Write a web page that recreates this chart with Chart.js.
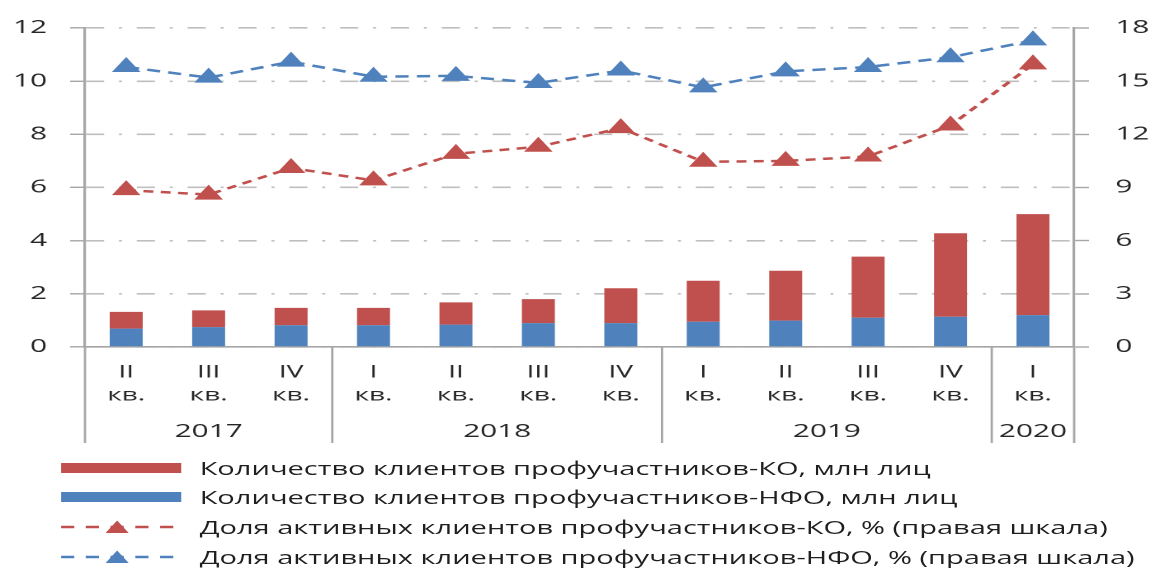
<!DOCTYPE html>
<html lang="ru">
<head>
<meta charset="UTF-8">
<title>Клиенты профучастников</title>
<style>
    body { margin: 0; background: #fff; overflow: hidden; }
    /* the reference is stretched horizontally, so the whole chart is drawn narrow and scaled */
    #wrap {
        position: absolute; left: 0; top: 0;
        width: 699px; height: 572px;
        transform: scaleX(1.65); transform-origin: 0 0;
        font-family: 'Open Sans', sans-serif;
    }
    #chart { position: absolute; left: 0; top: 0; }
    .row {
        position: absolute; left: 37px; height: 30px;
        display: flex; align-items: center;
        font-size: 17.6px; color: #1f1f1f; white-space: nowrap;
    }
    .row svg { width: 73px; height: 16px; margin-right: 11px; }
</style>
</head>
<body>
<div id="wrap">
    <canvas id="chart" width="699" height="450"></canvas>
    <div id="legend"></div>
</div>

<script src="https://cdn.jsdelivr.net/npm/chart.js"></script>
<script>
    // Data
    const quarters = [
        ["II", "кв."], ["III", "кв."], ["IV", "кв."],
        ["I", "кв."], ["II", "кв."], ["III", "кв."], ["IV", "кв."],
        ["I", "кв."], ["II", "кв."], ["III", "кв."], ["IV", "кв."],
        ["I", "кв."]
    ];
    const years = ["2017", "2018", "2019", "2020"];
    const quartersPerYear = [3, 4, 4, 1];

    const koClients  = [0.63, 0.63, 0.65, 0.65, 0.84, 0.90, 1.31, 1.54, 1.88, 2.30, 3.14, 3.80];
    const nfoClients = [0.69, 0.75, 0.82, 0.82, 0.84, 0.90, 0.90, 0.95, 0.99, 1.10, 1.14, 1.20];
    const koShare    = [8.85, 8.6, 10.1, 9.4, 10.9, 11.3, 12.35, 10.45, 10.5, 10.75, 12.5, 15.95];
    const nfoShare   = [15.8, 15.2, 16.1, 15.25, 15.3, 14.9, 15.6, 14.65, 15.55, 15.8, 16.35, 17.3];

    const leftMax = 12, leftStep = 2;
    const rightMax = 18, rightStep = 3;

    const seriesNames = [
        "Количество клиентов профучастников-КО, млн лиц",
        "Количество клиентов профучастников-НФО, млн лиц",
        "Доля активных клиентов профучастников-КО, % (правая шкала)",
        "Доля активных клиентов профучастников-НФО, % (правая шкала)"
    ];

    const RED = '#c0504d';
    const BLUE = '#4f81bd';
    const AXIS = '#a6a6a6';
    const TEXT = '#262626';

    // year row + group separators under the category axis
    const yearAxis = {
        id: 'yearAxis',
        afterDraw(chart) {
            const ctx = chart.ctx;
            const x = chart.scales.x;
            const area = chart.chartArea;
            const edges = [area.left];
            let idx = 0;
            quartersPerYear.forEach((n, k) => {
                idx += n;
                if (k === quartersPerYear.length - 1) edges.push(area.right);
                else edges.push((x.getPixelForTick(idx - 1) + x.getPixelForTick(idx)) / 2);
            });
            ctx.save();
            ctx.strokeStyle = AXIS;
            ctx.lineWidth = 1.4;
            edges.forEach(e => {
                ctx.beginPath();
                ctx.moveTo(e, area.bottom);
                ctx.lineTo(e, 443);
                ctx.stroke();
            });
            ctx.fillStyle = TEXT;
            ctx.font = "18px 'Open Sans', sans-serif";
            ctx.textAlign = 'center';
            ctx.textBaseline = 'middle';
            years.forEach((y, k) => {
                ctx.fillText(y, (edges[k] + edges[k + 1]) / 2, 432);
            });
            ctx.restore();
        }
    };

    const ctx = document.getElementById('chart').getContext('2d');
    new Chart(ctx, {
        data: {
            labels: quarters,
            datasets: [
                {
                    type: 'line', label: seriesNames[2], data: koShare, yAxisID: 'y2', order: 0,
                    borderColor: RED, borderWidth: 2.5, borderDash: [6, 4.5],
                    pointStyle: 'triangle', pointRadius: 9, pointBackgroundColor: RED, pointBorderColor: RED,
                    pointBorderWidth: 1, tension: 0
                },
                {
                    type: 'line', label: seriesNames[3], data: nfoShare, yAxisID: 'y2', order: 0,
                    borderColor: BLUE, borderWidth: 2.5, borderDash: [8, 5],
                    pointStyle: 'triangle', pointRadius: 9, pointBackgroundColor: BLUE, pointBorderColor: BLUE,
                    pointBorderWidth: 1, tension: 0
                },
                {
                    type: 'bar', label: seriesNames[1], data: nfoClients, yAxisID: 'y', order: 1,
                    backgroundColor: BLUE, stack: 's', categoryPercentage: 1, barPercentage: 0.4
                },
                {
                    type: 'bar', label: seriesNames[0], data: koClients, yAxisID: 'y', order: 1,
                    backgroundColor: RED, stack: 's', categoryPercentage: 1, barPercentage: 0.4
                }
            ]
        },
        options: {
            responsive: false,
            devicePixelRatio: 2,
            animation: false,
            layout: { padding: { top: 28, left: 0, right: 0, bottom: 0 } },
            plugins: { legend: { display: false }, tooltip: { enabled: false } },
            scales: {
                x: {
                    stacked: true,
                    offset: true,
                    grid: { display: false, drawTicks: false },
                    border: { display: true, color: AXIS, width: 1.6 },
                    ticks: {
                        color: TEXT, padding: 14, maxRotation: 0, autoSkip: false,
                        font: { family: "'Open Sans', sans-serif", size: 17, lineHeight: 1.35 }
                    },
                    afterFit(s) { s.height = 103; }
                },
                y: {
                    stacked: true,
                    position: 'left',
                    min: 0, max: leftMax,
                    grid: {
                        color: '#bfbfbf', lineWidth: 1.6, tickLength: 9,
                        tickColor: AXIS, tickWidth: 1.4
                    },
                    border: { display: true, color: AXIS, width: 1.6, dash: [11, 9, 1.8, 9] },
                    ticks: {
                        stepSize: leftStep, color: TEXT, padding: 14,
                        font: { family: "'Open Sans', sans-serif", size: 18 }
                    },
                    afterFit(s) { s.width = 51.5; }
                },
                y2: {
                    position: 'right',
                    min: 0, max: rightMax,
                    grid: {
                        drawOnChartArea: false, tickLength: 9,
                        tickColor: AXIS, tickWidth: 1.4
                    },
                    border: { display: true, color: AXIS, width: 1.6 },
                    ticks: {
                        stepSize: rightStep, color: TEXT, padding: 16,
                        font: { family: "'Open Sans', sans-serif", size: 18 }
                    },
                    afterFit(s) { s.width = 48; }
                }
            }
        },
        plugins: [yearAxis]
    });

    // HTML legend
    function barIcon(color) {
        return '<svg viewBox="0 0 73 16"><rect x="0" y="3" width="73" height="10" fill="' + color + '"/></svg>';
    }
    function lineIcon(color) {
        return '<svg viewBox="0 0 73 16">' +
            '<line x1="0" y1="8" x2="68" y2="8" stroke="' + color + '" stroke-width="2.5" stroke-dasharray="8 7"/>' +
            '<polygon points="34,1.5 41,14 27,14" fill="' + color + '"/>' +
            '</svg>';
    }
    const icons = [barIcon(RED), barIcon(BLUE), lineIcon(RED), lineIcon(BLUE)];
    const rowCenters = [468, 497, 527, 557];
    const legend = document.getElementById('legend');
    seriesNames.forEach((name, i) => {
        const row = document.createElement('div');
        row.className = 'row';
        row.style.top = (rowCenters[i] - 15) + 'px';
        row.innerHTML = icons[i] + '<span>' + name + '</span>';
        legend.appendChild(row);
    });
</script>
</body>
</html>
